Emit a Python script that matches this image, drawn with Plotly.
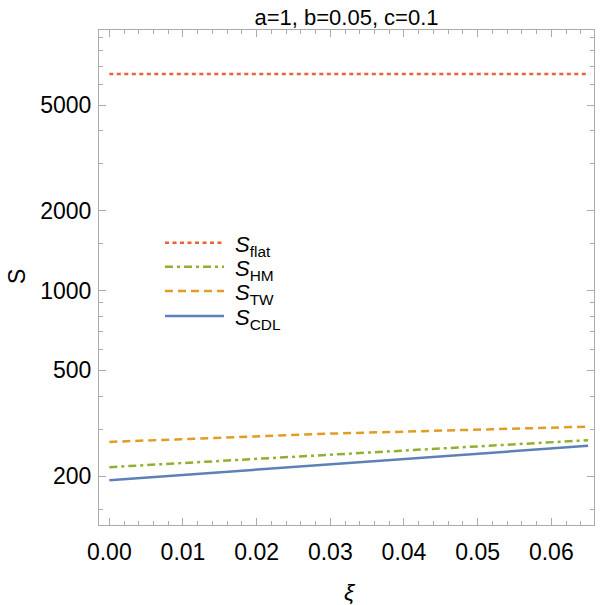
import plotly.graph_objects as go

xi = [0.0, 0.01, 0.02, 0.03, 0.04, 0.05, 0.06, 0.065]
S_flat = [6540, 6540, 6540, 6540, 6540, 6540, 6540, 6540]
S_HM = [216, 224, 232, 241, 249, 258, 268, 273]
S_TW = [269, 276, 283, 289, 294, 299, 304, 307]
S_CDL = [193, 202, 211, 221, 231, 242, 254, 260]

x_ticks = [0.0, 0.01, 0.02, 0.03, 0.04, 0.05, 0.06]
x_tick_text = ["0.00", "0.01", "0.02", "0.03", "0.04", "0.05", "0.06"]
x_minor = [round(i * 0.002, 4) for i in range(-1, 35)]
y_ticks = [200, 500, 1000, 2000, 5000]
y_tick_text = ["200", "500", "1000", "2000", "5000"]
y_minor = [150, 300, 400, 600, 700, 800, 900, 1500, 3000, 4000, 6000, 7000, 8000, 9000]

names = ["flat", "HM", "TW", "CDL"]
colors = ["#EB6235", "#8FB032", "#E19C24", "#5E81B5"]
dashes = ["4px,3.5px", "8px,4px,3px,4px", "8px,5px", "solid"]
values = [S_flat, S_HM, S_TW, S_CDL]

# plot-area geometry (pixels)
L, R, T, B = 99, 594, 30, 525
PW, PH = R - L, B - T


def px(x):
    return (x - L) / PW


def py(y):
    return (B - y) / PH


fig = go.Figure()
for nm, ys, col, dash in zip(names, values, colors, dashes):
    fig.add_trace(go.Scatter(x=xi, y=ys, mode="lines", name=nm, showlegend=False,
                             line=dict(color=col, width=2.5, dash=dash)))

# manual legend (Mathematica style)
shapes, annots = [], []
row_y = [242.7, 266.7, 291, 316]
for nm, col, dash, ry in zip(names, colors, dashes, row_y):
    shapes.append(dict(type="line", xref="paper", yref="paper",
                       x0=px(165), x1=px(224), y0=py(ry), y1=py(ry),
                       line=dict(color=col, width=2.5, dash=dash)))
    annots.append(dict(text="<i>S</i><sub>" + nm + "</sub>", xref="paper", yref="paper",
                       x=px(233), y=py(ry + 3), xanchor="left", yanchor="middle",
                       showarrow=False, font=dict(size=22, color="black")))

annots += [
    dict(text="S", xref="paper", yref="paper", x=px(17), y=py(277),
         showarrow=False, textangle=-90, font=dict(size=23), xanchor="center", yanchor="middle"),
    dict(text="<i>ξ</i>", xref="paper", yref="paper", x=px(350), y=py(592),
         showarrow=False, font=dict(size=23), xanchor="center", yanchor="middle"),
]

frame = "#ABABAB"
fig.update_layout(
    width=600, height=605,
    margin=dict(l=L, r=600 - R, t=T, b=605 - B),
    paper_bgcolor="white", plot_bgcolor="white",
    font=dict(family="Liberation Sans, Arial, sans-serif", color="black"),
    title=dict(text="a=1, b=0.05, c=0.1", x=(L + R) / 2 / 600, xanchor="center",
               y=1 - 17 / 605, yanchor="middle", font=dict(size=22, color="black")),
    showlegend=False,
    xaxis=dict(range=[-0.0014, 0.0658], showgrid=False, zeroline=False,
               showline=True, linecolor=frame, linewidth=1, mirror="allticks",
               ticks="inside", ticklen=7, tickcolor=frame, tickwidth=1,
               tickmode="array", tickvals=x_ticks, ticktext=x_tick_text,
               tickfont=dict(size=23), ticklabelstandoff=6,
               minor=dict(tickmode="array", tickvals=x_minor, ticks="inside",
                          ticklen=4, tickcolor=frame, tickwidth=1, showgrid=False)),
    yaxis=dict(type="log", range=[2.1166, 3.9816], showgrid=False, zeroline=False,
               showline=True, linecolor=frame, linewidth=1, mirror="allticks",
               ticks="inside", ticklen=7, tickcolor=frame, tickwidth=1,
               tickmode="array", tickvals=y_ticks, ticktext=y_tick_text,
               tickfont=dict(size=23), ticklabelstandoff=2,
               minor=dict(tickmode="array", tickvals=y_minor, ticks="inside",
                          ticklen=4, tickcolor=frame, tickwidth=1, showgrid=False)),
    shapes=shapes,
    annotations=annots,
)

fig.write_html("out.html")
